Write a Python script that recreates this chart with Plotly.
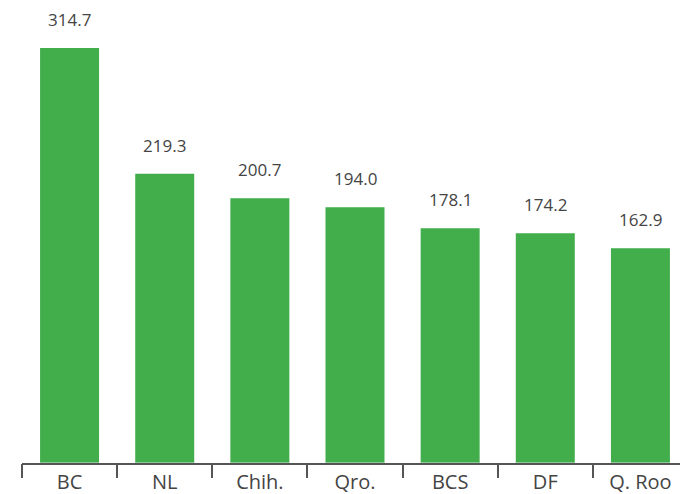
import plotly.graph_objects as go

categories = ["BC", "NL", "Chih.", "Qro.", "BCS", "DF", "Q. Roo"]
values = [314.7, 219.3, 200.7, 194.0, 178.1, 174.2, 162.9]
value_labels = [f"{v:.1f}" for v in values]

bar_color = "#41ad4b"
text_color = "#444444"
axis_color = "#555555"
font_family = "Open Sans, Noto Sans, sans-serif"

fig = go.Figure()
fig.add_trace(go.Bar(
    x=categories, y=values, marker=dict(color=bar_color, line=dict(width=0)),
    hoverinfo="skip",
))
# invisible trace for tick-mark axis
fig.add_trace(go.Bar(x=categories, y=[0]*len(categories), xaxis="x2", showlegend=False,
                     marker=dict(color="rgba(0,0,0,0)"), hoverinfo="skip"))

for c, v, t in zip(categories, values, value_labels):
    fig.add_annotation(x=c, y=v, text=t, showarrow=False, yanchor="bottom",
                       yshift=15, font=dict(size=17, color=text_color, family=font_family))

fig.update_layout(
    width=680, height=486,
    margin=dict(l=14, r=0, t=33, b=31),
    plot_bgcolor="white", paper_bgcolor="white",
    bargap=0.38, showlegend=False,
    xaxis=dict(
        type="category", showline=True, linecolor=axis_color, linewidth=2,
        ticks="", showgrid=False, zeroline=False,
        tickfont=dict(size=20, color=text_color, family=font_family),
        ticklabelstandoff=0, automargin=False,
    ),
    xaxis2=dict(
        type="category", overlaying="x", matches="x", side="bottom",
        ticks="outside", tickson="boundaries", ticklen=14, tickwidth=2,
        tickcolor=axis_color, showticklabels=False, showgrid=False,
        showline=False, zeroline=False,
    ),
    yaxis=dict(range=[0, 320], visible=False, showgrid=False, zeroline=False),
)

fig.write_html("out.html")
